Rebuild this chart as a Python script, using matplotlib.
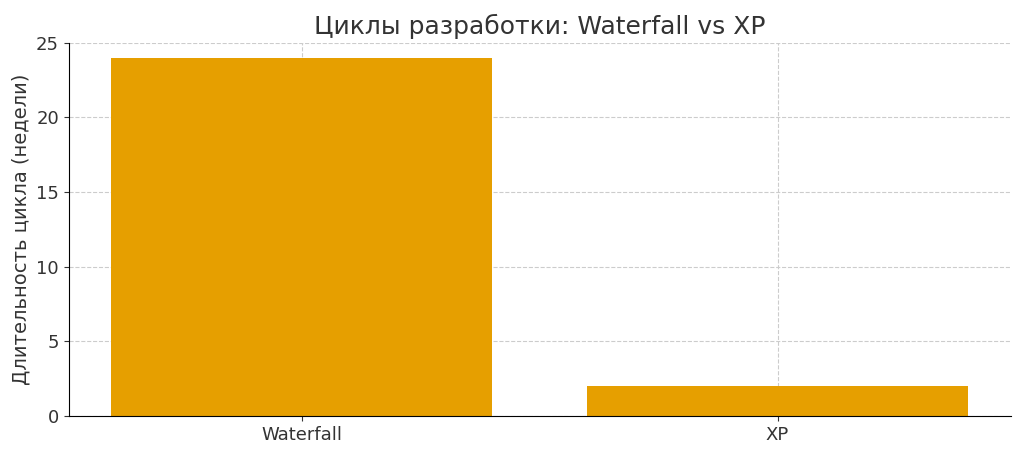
import matplotlib.pyplot as plt

methods = ['Waterfall', 'XP']
cycle_weeks = [24, 2]

fig = plt.figure(figsize=(10.24, 4.55), dpi=100)
ax = fig.add_axes([0.067, 0.086, 0.92, 0.82])

ax.bar(methods, cycle_weeks, color='#E69F00', width=0.8, zorder=2)
ax.set_title('Циклы разработки: Waterfall vs XP', fontsize=18, color='#333333')
ax.set_ylabel('Длительность цикла (недели)', fontsize=14, color='#333333')
ax.set_ylim(0, 25)
ax.grid(True, linestyle='--', color='#cccccc', linewidth=0.8, zorder=0)
ax.tick_params(labelsize=13, colors='#333333')
for s in ['top', 'right']:
    ax.spines[s].set_visible(False)

fig.savefig('out.png', dpi=100)
